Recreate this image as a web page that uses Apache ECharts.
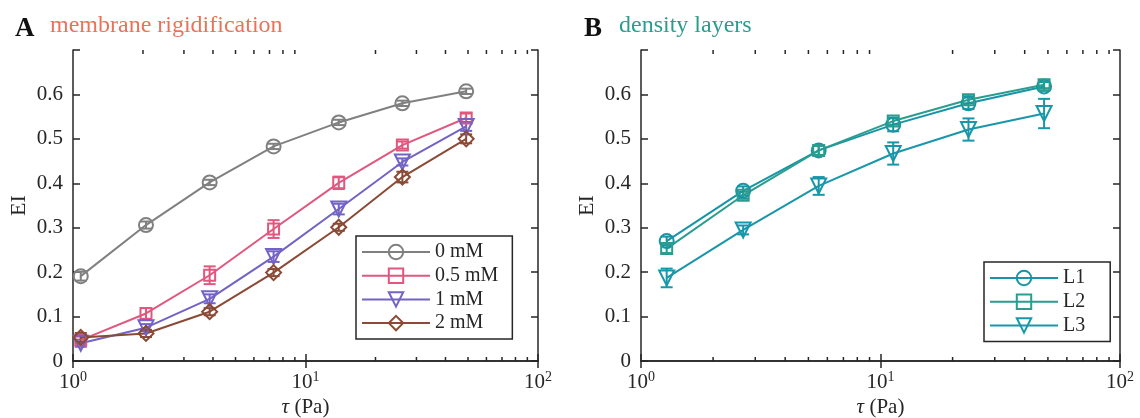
<!DOCTYPE html>
<html>
<head>
<meta charset="utf-8">
<script src="https://cdn.jsdelivr.net/npm/echarts@6/dist/echarts.min.js"></script>
<style>
html,body{margin:0;padding:0;background:#fff;}
#c{width:1140px;height:418px;}
</style>
</head>
<body>
<div id="c"></div>
<script>
// ---- Data ----
const tauA = [1.08, 2.06, 3.87, 7.29, 13.9, 26.1, 49.1];
const ei0 = [0.191, 0.306, 0.402, 0.483, 0.537, 0.580, 0.607];
const er0 = [0.010, 0.008, 0.006, 0.006, 0.006, 0.006, 0.006];
const ei05 = [0.047, 0.107, 0.193, 0.297, 0.401, 0.486, 0.547];
const er05 = [0.008, 0.012, 0.020, 0.020, 0.014, 0.008, 0.010];
const ei1 = [0.040, 0.075, 0.140, 0.235, 0.342, 0.448, 0.528];
const er1 = [0.008, 0.008, 0.010, 0.012, 0.012, 0.008, 0.010];
const ei2 = [0.053, 0.062, 0.111, 0.199, 0.301, 0.414, 0.500];
const er2 = [0.010, 0.008, 0.008, 0.008, 0.008, 0.012, 0.010];
const namesA = ['0 mM', '0.5 mM', '1 mM', '2 mM'];

const tauB = [1.28, 2.67, 5.52, 11.3, 23.3, 48.2];
const eiL1 = [0.270, 0.383, 0.474, 0.532, 0.580, 0.618];
const erL1 = [0.010, 0.010, 0.012, 0.015, 0.013, 0.010];
const eiL2 = [0.253, 0.373, 0.474, 0.540, 0.588, 0.622];
const erL2 = [0.010, 0.008, 0.010, 0.008, 0.008, 0.008];
const eiL3 = [0.187, 0.295, 0.394, 0.467, 0.521, 0.557];
const erL3 = [0.021, 0.010, 0.020, 0.025, 0.025, 0.033];
const namesB = ['L1', 'L2', 'L3'];

const minorTickVals = [2,3,4,5,6,7,8,9,20,30,40,50,60,70,80,90];
const yTicks = [0, 0.1, 0.2, 0.3, 0.4, 0.5, 0.6];

// ---- Style ----
const FONT = 'Liberation Serif';
const AX = '#262626';
const YMAX = 0.7;

function xAxes(grid) {
  return [
    {
      type: 'log', logBase: 10, min: 1, max: 100, gridIndex: grid, position: 'bottom',
      axisLine: {lineStyle: {color: AX, width: 1.5}},
      axisTick: {inside: true, length: 7, lineStyle: {color: AX, width: 1.5}},
      splitLine: {show: false},
      axisLabel: {
        margin: 9,
        formatter: v => '{b|10}{s|' + Math.round(Math.log10(v)) + '}',
        rich: {
          b: {fontSize: 21, fontFamily: FONT, color: AX},
          s: {fontSize: 14, fontFamily: FONT, color: AX, verticalAlign: 'top', padding: [0, 0, 10, 0]}
        }
      },
      name: '{i|τ} (Pa)', nameLocation: 'middle', nameGap: 35,
      nameTextStyle: {fontSize: 21, fontFamily: FONT, color: AX,
        rich: {i: {fontSize: 21, fontFamily: FONT, fontStyle: 'italic', color: AX}}}
    },
    {
      type: 'log', logBase: 10, min: 1, max: 100, gridIndex: grid, position: 'top',
      axisLine: {lineStyle: {color: AX, width: 1.5}},
      axisTick: {inside: true, length: 7, lineStyle: {color: AX, width: 1.5}},
      splitLine: {show: false}, axisLabel: {show: false}
    }
  ];
}
function yAxes(grid) {
  return [
    {
      type: 'value', min: 0, max: YMAX, interval: 0.1, gridIndex: grid, position: 'left',
      axisLine: {show: true, lineStyle: {color: AX, width: 1.5}},
      axisTick: {show: true, inside: true, length: 7, lineStyle: {color: AX, width: 1.5}},
      splitLine: {show: false},
      axisLabel: {fontSize: 21, fontFamily: FONT, color: AX, margin: 10,
        formatter: v => yTicks.some(t => Math.abs(t - v) < 1e-9) ? String(+v.toFixed(1)) : ''},
      name: 'EI', nameLocation: 'middle', nameGap: 43,
      nameTextStyle: {fontSize: 22, fontFamily: FONT, color: AX}
    },
    {
      type: 'value', min: 0, max: YMAX, interval: 0.1, gridIndex: grid, position: 'right',
      axisLine: {show: true, lineStyle: {color: AX, width: 1.5}},
      axisTick: {show: true, inside: true, length: 7, lineStyle: {color: AX, width: 1.5}},
      splitLine: {show: false}, axisLabel: {show: false}
    }
  ];
}

function lineSeries(name, xs, ys, color, symbol, size, rot, xi, yi) {
  return {
    type: 'line', name: name, xAxisIndex: xi, yAxisIndex: yi,
    data: xs.map((x, i) => [x, ys[i]]),
    symbol: symbol, symbolSize: size, symbolRotate: rot || 0, showAllSymbol: true,
    lineStyle: {color: color, width: 2},
    itemStyle: {color: 'rgba(255,255,255,0)', borderColor: color, borderWidth: 2},
    emphasis: {disabled: true},
    z: 3
  };
}
function errSeries(xs, ys, es, color, xi, yi) {
  return {
    type: 'custom', xAxisIndex: xi, yAxisIndex: yi,
    data: xs.map((x, i) => [x, ys[i] - es[i], ys[i] + es[i]]),
    encode: {x: 0, y: [1, 2]},
    renderItem: function (params, api) {
      const x = api.value(0);
      const p1 = api.coord([x, api.value(1)]);
      const p2 = api.coord([x, api.value(2)]);
      const w = 6;
      const st = {stroke: color, lineWidth: 2};
      return {type: 'group', children: [
        {type: 'line', shape: {x1: p1[0], y1: p1[1], x2: p2[0], y2: p2[1]}, style: st},
        {type: 'line', shape: {x1: p1[0] - w, y1: p1[1], x2: p1[0] + w, y2: p1[1]}, style: st},
        {type: 'line', shape: {x1: p2[0] - w, y1: p2[1], x2: p2[0] + w, y2: p2[1]}, style: st}
      ]};
    },
    silent: true, z: 3
  };
}
function minorSeries(xi, yi) {
  return {
    type: 'custom', xAxisIndex: xi, yAxisIndex: yi,
    data: minorTickVals.map(v => [v, 0]),
    encode: {x: 0, y: 1},
    renderItem: function (params, api) {
      const v = api.value(0);
      const pb = api.coord([v, 0]);
      const pt = api.coord([v, YMAX]);
      const st = {stroke: AX, lineWidth: 1.5};
      return {type: 'group', children: [
        {type: 'line', shape: {x1: pb[0], y1: pb[1], x2: pb[0], y2: pb[1] - 4}, style: st},
        {type: 'line', shape: {x1: pt[0], y1: pt[1], x2: pt[0], y2: pt[1] + 4}, style: st}
      ]};
    },
    silent: true, clip: false, z: 2
  };
}

const cA = ['#808080', '#e0577f', '#7263c4', '#8b4a35'];
const cB = ['#1795a6', '#2a9d8f', '#1997aa'];
const symC = 'circle', symS = 'rect', symT = 'triangle', symD = 'diamond';

const chart = echarts.init(document.getElementById('c'), null, {renderer: 'canvas'});
const legendCommon = {
  orient: 'vertical', backgroundColor: '#fff', borderColor: AX, borderWidth: 1.5, borderRadius: 0,
  itemWidth: 68, itemHeight: 18, itemGap: 3.7,
  textStyle: {fontSize: 20, fontFamily: FONT, color: AX, lineHeight: 20},
  selectedMode: false
};
chart.setOption({
  animation: false,
  backgroundColor: '#fff',
  grid: [
    {left: 73, top: 50, width: 465, height: 311, outerBoundsMode: 'none', containLabel: false},
    {left: 641, top: 50, width: 479, height: 311, outerBoundsMode: 'none', containLabel: false}
  ],
  xAxis: [...xAxes(0), ...xAxes(1)],
  yAxis: [...yAxes(0), ...yAxes(1)],
  legend: [
    Object.assign({}, legendCommon, {left: 356, top: 236, padding: [6, 14, 6, 5], data: namesA}),
    Object.assign({}, legendCommon, {left: 984, top: 262, padding: [6, 25, 6, 5], data: namesB})
  ],
  graphic: [
    {type: 'text', left: 15, top: 16, style: {text: 'A', fontSize: 27, fontWeight: 'bold', fontFamily: FONT, fill: '#111'}},
    {type: 'text', left: 50, top: 14, style: {text: 'membrane rigidification', fontSize: 24, fontFamily: FONT, fill: '#e8735a'}},
    {type: 'text', left: 584, top: 16, style: {text: 'B', fontSize: 27, fontWeight: 'bold', fontFamily: FONT, fill: '#111'}},
    {type: 'text', left: 619, top: 14, style: {text: 'density layers', fontSize: 24, fontFamily: FONT, fill: '#2a9d8f'}}
  ],
  series: [
    minorSeries(0, 0),
    minorSeries(2, 2),
    errSeries(tauA, ei0, er0, cA[0], 0, 0),
    lineSeries(namesA[0], tauA, ei0, cA[0], symC, 14, 0, 0, 0),
    errSeries(tauA, ei05, er05, cA[1], 0, 0),
    lineSeries(namesA[1], tauA, ei05, cA[1], symS, 11, 0, 0, 0),
    errSeries(tauA, ei1, er1, cA[2], 0, 0),
    lineSeries(namesA[2], tauA, ei1, cA[2], symT, 15, 180, 0, 0),
    errSeries(tauA, ei2, er2, cA[3], 0, 0),
    lineSeries(namesA[3], tauA, ei2, cA[3], symD, 15, 0, 0, 0),
    errSeries(tauB, eiL1, erL1, cB[0], 2, 2),
    lineSeries(namesB[0], tauB, eiL1, cB[0], symC, 14, 0, 2, 2),
    errSeries(tauB, eiL2, erL2, cB[1], 2, 2),
    lineSeries(namesB[1], tauB, eiL2, cB[1], symS, 11, 0, 2, 2),
    errSeries(tauB, eiL3, erL3, cB[2], 2, 2),
    lineSeries(namesB[2], tauB, eiL3, cB[2], symT, 15, 180, 2, 2)
  ]
});
</script>
</body>
</html>
